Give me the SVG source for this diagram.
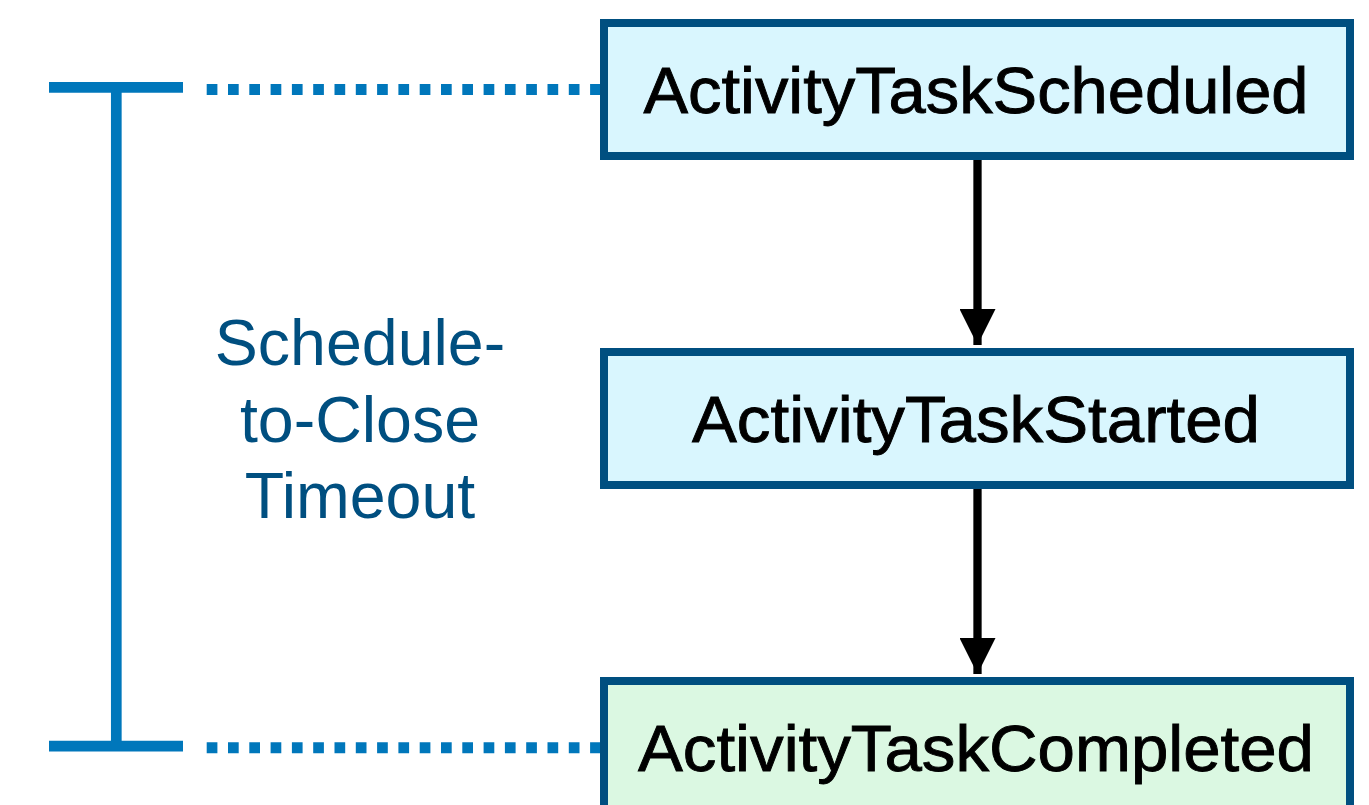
<svg xmlns="http://www.w3.org/2000/svg" width="1369" height="805" viewBox="0 0 1369 805">
  <style>
    .box { stroke: #004f80; stroke-width: 8; }
    .blue { fill: #d9f6fe; }
    .green { fill: #dbf8e2; }
    .nodetext { font-family: "Liberation Sans", Arial, sans-serif; font-size: 65px; fill: #000; stroke: #000; stroke-width: 0.9; text-anchor: middle; }
    .label { font-family: "Liberation Sans", Arial, sans-serif; font-size: 64.5px; fill: #004f80; text-anchor: middle; }
    .bracket { stroke: #0077bb; stroke-width: 10.7; fill: none; }
    .dots { stroke: #0077bb; stroke-width: 11; stroke-dasharray: 10.7 10.6; fill: none; }
    .arrow { stroke: #000; stroke-width: 8.3; fill: none; }
  </style>
  <defs>
    <marker id="ah" markerUnits="userSpaceOnUse" markerWidth="36" markerHeight="36" refX="35" refY="17.5" orient="auto" viewBox="0 0 35 35">
      <path d="M0,0 L35,17.5 L0,35 Z" fill="#000"/>
    </marker>
  </defs>
  <rect width="1369" height="805" fill="#fff"/>

  <g id="connectors">
    <line class="arrow" x1="977.5" y1="160" x2="977.5" y2="345" marker-end="url(#ah)"/>
    <line class="arrow" x1="977.5" y1="489" x2="977.5" y2="674" marker-end="url(#ah)"/>
    <line class="dots" x1="206.7" y1="89.5" x2="601" y2="89.5"/>
    <line class="dots" x1="206.7" y1="747.8" x2="601" y2="747.8"/>
  </g>

  <g id="timeout-bracket">
    <line class="bracket" x1="49" y1="87.3" x2="183" y2="87.3"/>
    <line class="bracket" x1="49" y1="746.2" x2="183" y2="746.2"/>
    <line class="bracket" x1="116.3" y1="87.3" x2="116.3" y2="746.2"/>
    <text class="label" x="360" y="365">Schedule-</text>
    <text class="label" x="360" y="441.5">to-Close</text>
    <text class="label" x="360" y="518">Timeout</text>
  </g>

  <g id="node-scheduled">
    <rect class="box blue" x="604" y="23" width="746" height="133"/>
    <text class="nodetext" x="976" y="113" textLength="665" lengthAdjust="spacingAndGlyphs">ActivityTaskScheduled</text>
  </g>
  <g id="node-started">
    <rect class="box blue" x="604" y="352" width="746" height="133"/>
    <text class="nodetext" x="976" y="442" textLength="568" lengthAdjust="spacingAndGlyphs">ActivityTaskStarted</text>
  </g>
  <g id="node-completed">
    <rect class="box green" x="604" y="681" width="746" height="133"/>
    <text class="nodetext" x="976" y="771" textLength="676" lengthAdjust="spacingAndGlyphs">ActivityTaskCompleted</text>
  </g>
</svg>
